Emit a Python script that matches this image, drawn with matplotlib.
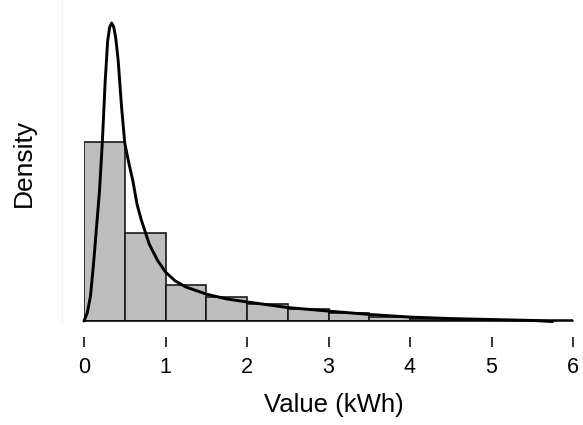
import matplotlib
matplotlib.use("Agg")
import matplotlib.pyplot as plt
from matplotlib.lines import Line2D

# Histogram (density) bins of width 0.5 from 0 to 6
bin_edges = [0.0, 0.5, 1.0, 1.5, 2.0, 2.5, 3.0, 3.5, 4.0, 4.5, 5.0, 5.5, 6.0]
bar_density = [0.957, 0.471, 0.190, 0.128, 0.091, 0.062, 0.043, 0.024, 0.013, 0.008, 0.005, 0.003]

# Fitted density curve
curve_x = [0, 0.04, 0.08, 0.12, 0.16, 0.19, 0.225, 0.26, 0.29, 0.315, 0.34, 0.365, 0.39,
           0.42, 0.46, 0.50, 0.55, 0.60, 0.65, 0.70, 0.80, 0.90, 1.00, 1.12, 1.25, 1.50,
           1.75, 2.00, 2.50, 3.00, 3.50, 4.00, 4.50, 5.00, 5.50, 5.75]
curve_y = [0, 0.043, 0.134, 0.321, 0.535, 0.695, 0.957, 1.283, 1.497, 1.572, 1.594, 1.572,
           1.513, 1.390, 1.150, 0.952, 0.845, 0.749, 0.626, 0.545, 0.412, 0.326, 0.262,
           0.214, 0.182, 0.144, 0.118, 0.102, 0.072, 0.053, 0.035, 0.021, 0.013, 0.008,
           0.003, -0.003]

x_ticks = [0, 1, 2, 3, 4, 5, 6]

plt.rcParams['font.family'] = ['Liberation Sans', 'DejaVu Sans']

W, H = 583, 425
fig = plt.figure(figsize=(W / 100, H / 100), dpi=100)
ax = fig.add_axes([84 / W, (H - 321) / H, 489 / W, 306 / H])

lefts = bin_edges[:-1]
ax.bar(lefts, bar_density, width=0.5, align='edge', color='#BEBEBE',
       edgecolor='#1a1a1a', linewidth=1.2, zorder=2)
ax.plot(curve_x, curve_y, color='black', linewidth=2.1, zorder=3,
        solid_capstyle='round', solid_joinstyle='round', clip_on=False)
ax.axhline(0, color='black', linewidth=1.1, zorder=4, clip_on=False)

ax.set_xlim(0, 6)
ax.set_ylim(0, 1.637)

for s in ['top', 'right', 'left']:
    ax.spines[s].set_visible(False)
ax.spines['bottom'].set_color('none')
ax.spines['bottom'].set_position(('outward', 11.7))

ax.set_xticks(x_ticks)
ax.set_xticklabels([str(t) for t in x_ticks])
ax.tick_params(axis='x', direction='out', length=7.2, width=1.1, pad=7,
               labelsize=15.5, colors='black')
ax.set_yticks([])

fig.text(24 / W, (H - 163) / H, 'Density', rotation=90, ha='center', va='center',
         fontsize=19)
fig.text(334 / W, (H - 405) / H, 'Value (kWh)', ha='center', va='center',
         fontsize=18.5)

# faint vertical guide line at the left edge of the picture
fig.add_artist(Line2D([61.5 / W, 61.5 / W], [(H - 322) / H, 1.0],
                      transform=fig.transFigure, color='#eeeeee', linewidth=0.8))

fig.savefig('out.png', dpi=100)
